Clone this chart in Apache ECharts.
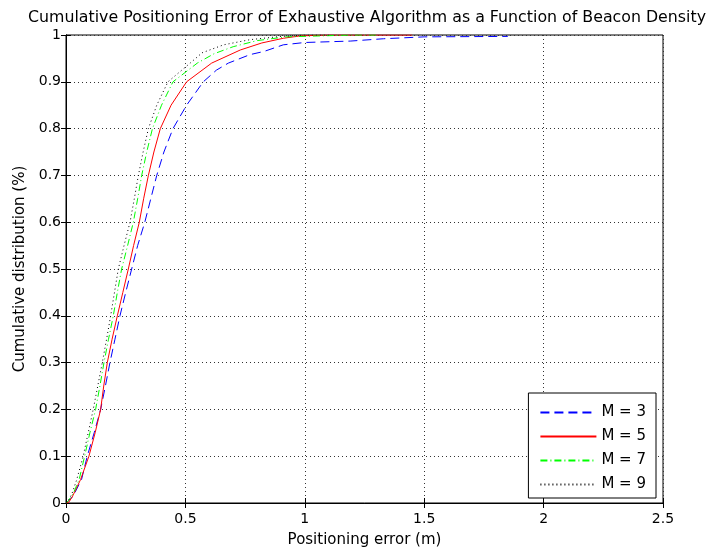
<!DOCTYPE html>
<html><head><meta charset="utf-8">
<script src="https://cdn.jsdelivr.net/npm/echarts@6/dist/echarts.min.js"></script>
<style>html,body{margin:0;padding:0;background:#fff}#c{width:710px;height:555px}</style>
</head><body><div id="c"></div>
<script>
const titleText = 'Cumulative Positioning Error of Exhaustive Algorithm as a Function of Beacon Density';
const xTicks = [0, 0.5, 1, 1.5, 2, 2.5];
const yTicks = [0, 0.1, 0.2, 0.3, 0.4, 0.5, 0.6, 0.7, 0.8, 0.9, 1];
const seriesNames = ['M = 3', 'M = 5', 'M = 7', 'M = 9'];
const m3 = [[0,0],[0.012,0.005],[0.03,0.015],[0.065,0.05],[0.089,0.1],[0.118,0.15],[0.145,0.2],[0.165,0.25],[0.184,0.3],[0.205,0.35],[0.226,0.4],[0.25,0.45],[0.275,0.5],[0.30,0.55],[0.33,0.6],[0.355,0.65],[0.38,0.7],[0.41,0.75],[0.448,0.8],[0.505,0.85],[0.575,0.9],[0.63,0.925],[0.68,0.94],[0.77,0.958],[0.83,0.965],[0.91,0.979],[1.0,0.984],[1.19,0.987],[1.33,0.992],[1.5,0.996],[1.85,0.997]];
const m5 = [[0,0],[0.012,0.002],[0.026,0.013],[0.061,0.05],[0.096,0.1],[0.122,0.15],[0.145,0.2],[0.158,0.25],[0.173,0.3],[0.193,0.35],[0.215,0.4],[0.238,0.45],[0.261,0.5],[0.283,0.55],[0.307,0.6],[0.325,0.65],[0.345,0.7],[0.368,0.75],[0.395,0.8],[0.44,0.85],[0.505,0.9],[0.61,0.94],[0.73,0.968],[0.82,0.983],[0.91,0.993],[0.98,0.998],[1.09,1],[1.45,1]];
const m7 = [[0,0],[0.01,0.005],[0.03,0.02],[0.055,0.05],[0.078,0.1],[0.10,0.15],[0.124,0.2],[0.142,0.25],[0.159,0.3],[0.178,0.35],[0.198,0.4],[0.215,0.45],[0.233,0.5],[0.258,0.55],[0.282,0.6],[0.30,0.65],[0.317,0.7],[0.338,0.75],[0.362,0.8],[0.40,0.85],[0.448,0.9],[0.55,0.94],[0.62,0.96],[0.70,0.975],[0.80,0.988],[0.92,0.996],[1.2,1],[1.3,1]];
const m9 = [[0,0],[0.01,0.005],[0.025,0.02],[0.045,0.05],[0.072,0.1],[0.093,0.15],[0.114,0.2],[0.133,0.25],[0.152,0.3],[0.17,0.35],[0.187,0.4],[0.203,0.45],[0.219,0.5],[0.243,0.55],[0.268,0.6],[0.286,0.65],[0.303,0.7],[0.323,0.75],[0.345,0.8],[0.38,0.85],[0.427,0.9],[0.52,0.94],[0.57,0.962],[0.66,0.979],[0.77,0.99],[0.9,0.997],[1.0,1],[1.1,1]];

const FONT = 'DejaVu Sans';
const chart = echarts.init(document.getElementById('c'), null, {renderer: 'canvas'});
const grid = {left: 66, top: 35, right: 47, bottom: 52, show: true, borderColor: '#000', borderWidth: 1, backgroundColor: '#fff'};
const dotted = {color: '#333', width: 1, type: [1, 3]};
function mkLine(name, data, color, type) {
  return {name, type: 'line', data, xAxisIndex: 0, yAxisIndex: 0, symbol: 'none', showSymbol: false,
    lineStyle: {color, width: 1, type}, itemStyle: {color}, animation: false, z: 3};
}
chart.setOption({
  animation: false,
  title: {text: titleText, left: 23, top: 5, textStyle: {fontFamily: FONT, fontSize: 15.8, fontWeight: 'normal', color: '#000'}},
  grid,
  xAxis: [
    {type: 'value', min: xTicks[0], max: xTicks[xTicks.length-1], interval: 0.5, position: 'bottom',
     name: 'Positioning error (m)', nameLocation: 'middle', nameGap: 30,
     nameTextStyle: {fontFamily: FONT, fontSize: 15, color: '#000'},
     axisLine: {show: true, lineStyle: {color: '#000'}},
     axisTick: {show: true, inside: true, length: 5, lineStyle: {color: '#000'}},
     axisLabel: {fontFamily: FONT, fontSize: 14, color: '#000', margin: 9, formatter: v => String(v)},
     splitLine: {show: true, lineStyle: dotted}},
    {type: 'value', min: xTicks[0], max: xTicks[xTicks.length-1], interval: 0.5, position: 'top',
     axisLine: {show: true, lineStyle: {color: '#000'}},
     axisTick: {show: true, inside: true, length: 5, lineStyle: {color: '#000'}},
     axisLabel: {show: false}, splitLine: {show: false}}
  ],
  yAxis: [
    {type: 'value', min: yTicks[0], max: yTicks[yTicks.length-1], interval: 0.1, position: 'left',
     name: 'Cumulative distribution (%)', nameLocation: 'middle', nameGap: 38,
     nameTextStyle: {fontFamily: FONT, fontSize: 15, color: '#000'},
     axisLine: {show: true, lineStyle: {color: '#000'}},
     axisTick: {show: true, inside: true, length: 5, lineStyle: {color: '#000'}},
     axisLabel: {fontFamily: FONT, fontSize: 14, color: '#000', margin: 5, formatter: v => String(Math.round(v*10)/10)},
     splitLine: {show: true, lineStyle: dotted}},
    {type: 'value', min: yTicks[0], max: yTicks[yTicks.length-1], interval: 0.1, position: 'right',
     axisLine: {show: true, lineStyle: {color: '#000'}},
     axisTick: {show: true, inside: true, length: 5, lineStyle: {color: '#000'}},
     axisLabel: {show: false}, splitLine: {show: false}}
  ],
  legend: {
    data: seriesNames, orient: 'vertical', right: 54, bottom: 57,
    backgroundColor: '#fff', borderColor: '#000', borderWidth: 1, padding: [12, 10, 6, 11],
    itemGap: 9, itemWidth: 56, itemHeight: 14,
    itemStyle: {opacity: 0, borderWidth: 0},
    textStyle: {fontFamily: FONT, fontSize: 15, color: '#000'}
  },
  series: [
    mkLine(seriesNames[0], m3, '#0000ff', [9, 5]),
    mkLine(seriesNames[1], m5, '#ff0000', 'solid'),
    mkLine(seriesNames[2], m7, '#00ff00', [7, 3, 1, 3]),
    mkLine(seriesNames[3], m9, '#000000', [1, 3])
  ]
});
</script></body></html>
